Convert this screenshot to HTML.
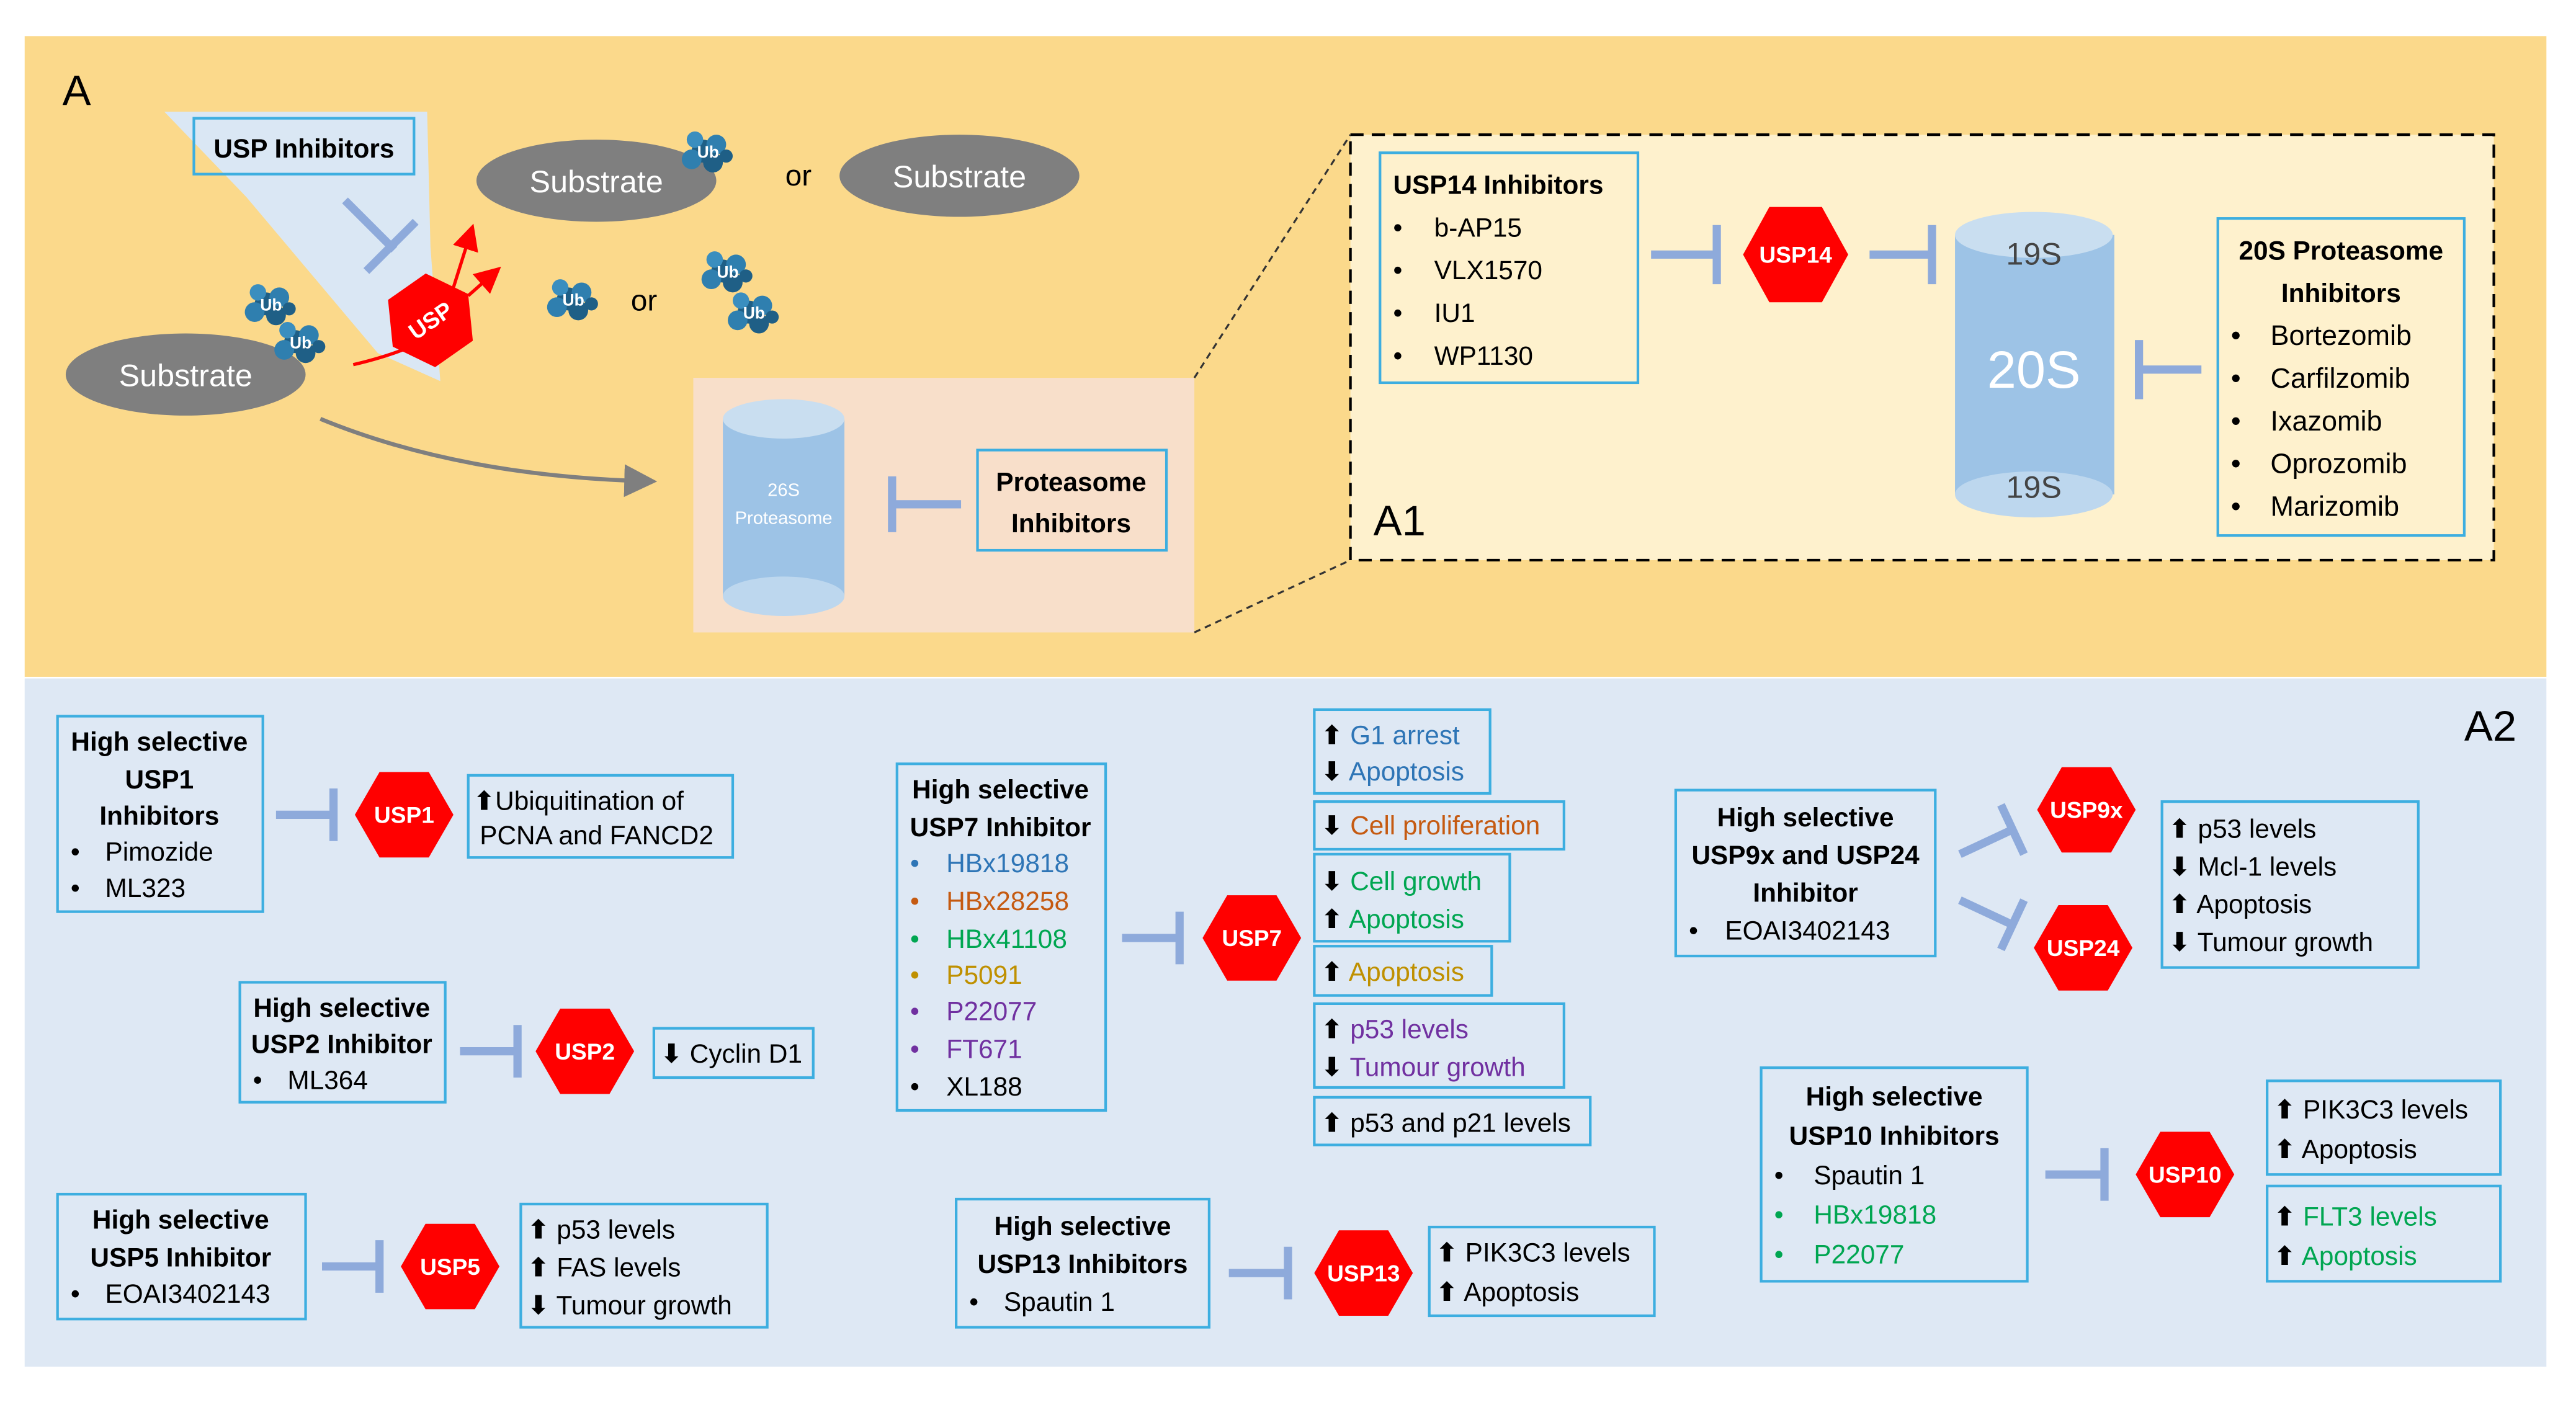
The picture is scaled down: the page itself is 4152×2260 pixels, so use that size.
<!DOCTYPE html>
<html><head><meta charset="utf-8"><style>
html,body{margin:0;padding:0;background:#fff;}
svg{display:block;}
text{font-family:"Liberation Sans","DejaVu Sans",sans-serif;}
.t{font-size:16px;fill:#000;}
.b{font-size:16px;font-weight:bold;fill:#000;}
.box{fill:none;stroke:#3DAEE0;stroke-width:1.6;}
.tb{stroke:#8EAADB;stroke-width:5;fill:none;}
.hx{fill:#FF0000;}
.hl{font-size:14px;font-weight:bold;fill:#fff;text-anchor:middle;}
.ar{font-family:"DejaVu Sans",sans-serif;font-weight:bold;}
</style></head><body>
<svg width="4152" height="2260" viewBox="0 0 1568 853.5" xmlns="http://www.w3.org/2000/svg">
<defs>
<marker id="ga" markerWidth="8" markerHeight="8" refX="6" refY="4" orient="auto"><path d="M0,0 L8,4 L0,8 z" fill="#7F7F7F"/></marker>
<marker id="ra" markerWidth="8" markerHeight="8" refX="6" refY="4" orient="auto"><path d="M0,0 L8,4 L0,8 z" fill="#FF0000"/></marker>
<g id="ub"><circle cx="0" cy="0" r="7" fill="#1F5F86"/><circle cx="8" cy="-4" r="6" fill="#2F7FAF"/><circle cx="-7" cy="5" r="6" fill="#2F7FAF"/><circle cx="6" cy="7" r="6" fill="#1F5F86"/><circle cx="-5" cy="-7" r="5" fill="#3A8EBF"/><circle cx="14" cy="3" r="4" fill="#1F5F86"/><text x="3" y="4" font-size="10" font-weight="bold" fill="#fff" text-anchor="middle">Ub</text></g>
</defs>
<rect x="0" y="0" width="1568" height="853.5" fill="#fff"/>
<!-- top panel -->
<rect x="15" y="22" width="1535" height="390" fill="#FBD98B"/>
<rect x="15" y="413" width="1535" height="419" fill="#DEE8F4"/>
<text x="38" y="64" font-size="26" fill="#000">A</text>
<polygon points="100,68 260,68 262,150 268,232 230,215 150,120" fill="#DAE7F4"/>
<rect x="118" y="72" width="134" height="34" fill="#DAE7F4" class="box"/>
<text x="185" y="96" class="b" text-anchor="middle" font-size="17">USP Inhibitors</text>
<path d="M210,122 L240,152 M223,165 L253,135" class="tb"/>
<ellipse cx="363" cy="110" rx="73" ry="25" fill="#7F7F7F"/>
<text x="363" y="117" font-size="19" fill="#fff" text-anchor="middle">Substrate</text>
<ellipse cx="584" cy="107" rx="73" ry="25" fill="#7F7F7F"/>
<text x="584" y="114" font-size="19" fill="#fff" text-anchor="middle">Substrate</text>
<ellipse cx="113" cy="228" rx="73" ry="25" fill="#7F7F7F"/>
<text x="113" y="235" font-size="19" fill="#fff" text-anchor="middle">Substrate</text>
<text x="478" y="113" font-size="18">or</text>
<text x="384" y="189" font-size="18">or</text>
<use href="#ub" x="428" y="92"/>
<use href="#ub" x="162" y="185"/><use href="#ub" x="180" y="208"/>
<use href="#ub" x="346" y="182"/>
<use href="#ub" x="440" y="165"/><use href="#ub" x="456" y="190"/>
<path d="M215,222 Q245,215 262,205" stroke="#FF0000" stroke-width="2" fill="none"/>
<path d="M276,175 L287,140" stroke="#FF0000" stroke-width="2" fill="none" marker-end="url(#ra)"/>
<path d="M285,180 L302,165" stroke="#FF0000" stroke-width="2" fill="none" marker-end="url(#ra)"/>
<g transform="rotate(-35 262 195)"><polygon class="hx" points="234,195 248,170 276,170 290,195 276,220 248,220"/><text x="262" y="200" class="hl">USP</text></g>
<path d="M195,255 Q280,290 395,293" stroke="#7F7F7F" stroke-width="2.5" fill="none" marker-end="url(#ga)"/>
<rect x="422" y="230" width="305" height="155" fill="#F8DFCA"/>
<rect x="440" y="255" width="74" height="108" fill="#9DC3E6"/>
<ellipse cx="477" cy="363" rx="37" ry="12" fill="#BDD7EE"/>
<ellipse cx="477" cy="255" rx="37" ry="12" fill="#C9DEF0"/>
<text x="477" y="302" font-size="11" fill="#fff" text-anchor="middle">26S</text>
<text x="477" y="319" font-size="11" fill="#fff" text-anchor="middle">Proteasome</text>
<path d="M543,307 L585,307 M543,290 L543,324" class="tb"/>
<rect x="595" y="274" width="115" height="61" class="box"/>
<text x="652" y="299" class="b" text-anchor="middle" font-size="17">Proteasome</text>
<text x="652" y="324" class="b" text-anchor="middle" font-size="17">Inhibitors</text>
<!-- A1 -->
<line x1="727" y1="230" x2="822" y2="82" stroke="#333" stroke-width="1.2" stroke-dasharray="4,3"/>
<line x1="727" y1="385" x2="822" y2="341" stroke="#333" stroke-width="1.2" stroke-dasharray="4,3"/>
<rect x="822" y="82" width="696" height="259" fill="#FEF1CD" stroke="#000" stroke-width="1.6" stroke-dasharray="8,5"/>
<text x="836" y="326" font-size="26">A1</text>
<rect x="840" y="93" width="157" height="140" class="box"/>
<text x="848" y="118" class="b" font-size="17">USP14 Inhibitors</text>
<g class="t" font-size="17"><text x="848" y="144">•</text><text x="873" y="144">b-AP15</text>
<text x="848" y="170">•</text><text x="873" y="170">VLX1570</text>
<text x="848" y="196">•</text><text x="873" y="196">IU1</text>
<text x="848" y="222">•</text><text x="873" y="222">WP1130</text></g>
<path d="M1005,155 L1045,155 M1045,137 L1045,173" class="tb"/>
<polygon class="hx" points="1061,155 1077,126 1109,126 1125,155 1109,184 1077,184"/>
<text x="1093" y="160" class="hl">USP14</text>
<path d="M1138,155 L1176,155 M1176,137 L1176,173" class="tb"/>
<rect x="1190" y="143" width="97" height="158" fill="#9DC3E6"/>
<ellipse cx="1238" cy="301" rx="48" ry="14" fill="#BDD7EE"/>
<ellipse cx="1238" cy="143" rx="48" ry="14" fill="#C9DEF0"/>
<text x="1238" y="161" font-size="19" fill="#444" text-anchor="middle">19S</text>
<text x="1238" y="236" font-size="32" fill="#fff" text-anchor="middle">20S</text>
<text x="1238" y="303" font-size="19" fill="#444" text-anchor="middle">19S</text>
<path d="M1302,225 L1340,225 M1302,207 L1302,243" class="tb"/>
<rect x="1350" y="133" width="150" height="193" class="box"/>
<text x="1425" y="158" class="b" font-size="17" text-anchor="middle">20S Proteasome</text>
<text x="1425" y="184" class="b" font-size="17" text-anchor="middle">Inhibitors</text>
<g font-size="17"><text x="1358" y="210">•</text><text x="1382" y="210">Bortezomib</text>
<text x="1358" y="236">•</text><text x="1382" y="236">Carfilzomib</text>
<text x="1358" y="262">•</text><text x="1382" y="262">Ixazomib</text>
<text x="1358" y="288">•</text><text x="1382" y="288">Oprozomib</text>
<text x="1358" y="314">•</text><text x="1382" y="314">Marizomib</text></g>
<!-- A2 -->
<text x="1500" y="451" font-size="26">A2</text>
<!-- USP1 -->
<rect x="35" y="436" width="125" height="119" class="box"/>
<g class="b" text-anchor="middle"><text x="97" y="457">High selective</text><text x="97" y="480">USP1</text><text x="97" y="502">Inhibitors</text></g>
<g class="t"><text x="43" y="524">•</text><text x="64" y="524">Pimozide</text><text x="43" y="546">•</text><text x="64" y="546">ML323</text></g>
<path d="M168,496 L203,496 M203,480 L203,512" class="tb"/>
<polygon class="hx" points="216,496 231,470 261,470 276,496 261,522 231,522"/><text x="246" y="501" class="hl">USP1</text>
<rect x="285" y="472" width="161" height="50" class="box"/>
<text x="288" y="493" class="t"><tspan class="ar">⬆</tspan>Ubiquitination of</text><text x="292" y="514" class="t">PCNA and FANCD2</text>
<!-- USP2 -->
<rect x="146" y="598" width="125" height="73" class="box"/>
<g class="b" text-anchor="middle"><text x="208" y="619">High selective</text><text x="208" y="641">USP2 Inhibitor</text></g>
<text x="154" y="663" class="t">•</text><text x="175" y="663" class="t">ML364</text>
<path d="M280,640 L315,640 M315,624 L315,656" class="tb"/>
<polygon class="hx" points="326,640 341,614 371,614 386,640 371,666 341,666"/><text x="356" y="645" class="hl">USP2</text>
<rect x="398" y="626" width="97" height="30" class="box"/>
<text x="402" y="647" class="t"><tspan class="ar">⬇</tspan> Cyclin D1</text>
<!-- USP5 -->
<rect x="35" y="727" width="151" height="76" class="box"/>
<g class="b" text-anchor="middle"><text x="110" y="748">High selective</text><text x="110" y="771">USP5 Inhibitor</text></g>
<text x="43" y="793" class="t">•</text><text x="64" y="793" class="t">EOAI3402143</text>
<path d="M196,771 L231,771 M231,755 L231,787" class="tb"/>
<polygon class="hx" points="244,771 259,745 289,745 304,771 289,797 259,797"/><text x="274" y="776" class="hl">USP5</text>
<rect x="317" y="733" width="150" height="75" class="box"/>
<g class="t"><text x="321" y="754"><tspan class="ar">⬆</tspan> p53 levels</text><text x="321" y="777"><tspan class="ar">⬆</tspan> FAS levels</text><text x="321" y="800"><tspan class="ar">⬇</tspan> Tumour growth</text></g>
<!-- USP7 -->
<rect x="546" y="465" width="127" height="211" class="box"/>
<g class="b" text-anchor="middle"><text x="609" y="486">High selective</text><text x="609" y="509">USP7 Inhibitor</text></g>
<g font-size="16">
<text x="554" y="531" fill="#2E75B6">•</text><text x="576" y="531" fill="#2E75B6">HBx19818</text>
<text x="554" y="554" fill="#C55A11">•</text><text x="576" y="554" fill="#C55A11">HBx28258</text>
<text x="554" y="577" fill="#00A651">•</text><text x="576" y="577" fill="#00A651">HBx41108</text>
<text x="554" y="599" fill="#BF9000">•</text><text x="576" y="599" fill="#BF9000">P5091</text>
<text x="554" y="621" fill="#7030A0">•</text><text x="576" y="621" fill="#7030A0">P22077</text>
<text x="554" y="644" fill="#7030A0">•</text><text x="576" y="644" fill="#7030A0">FT671</text>
<text x="554" y="667" fill="#000">•</text><text x="576" y="667" fill="#000">XL188</text></g>
<path d="M683,571 L718,571 M718,555 L718,587" class="tb"/>
<polygon class="hx" points="732,571 747,545 777,545 792,571 777,597 747,597"/><text x="762" y="576" class="hl">USP7</text>
<g font-size="16">
<rect x="800" y="432" width="107" height="51" class="box"/>
<text x="804" y="453" fill="#2E75B6"><tspan class="ar" fill="#000">⬆</tspan> G1 arrest</text>
<text x="804" y="475" fill="#2E75B6"><tspan class="ar" fill="#000">⬇</tspan> Apoptosis</text>
<rect x="800" y="488" width="152" height="29" class="box"/>
<text x="804" y="508" fill="#C55A11"><tspan class="ar" fill="#000">⬇</tspan> Cell proliferation</text>
<rect x="800" y="520" width="119" height="53" class="box"/>
<text x="804" y="542" fill="#00A651"><tspan class="ar" fill="#000">⬇</tspan> Cell growth</text>
<text x="804" y="565" fill="#00A651"><tspan class="ar" fill="#000">⬆</tspan> Apoptosis</text>
<rect x="800" y="576" width="108" height="30" class="box"/>
<text x="804" y="597" fill="#BF9000"><tspan class="ar" fill="#000">⬆</tspan> Apoptosis</text>
<rect x="800" y="611" width="152" height="51" class="box"/>
<text x="804" y="632" fill="#7030A0"><tspan class="ar" fill="#000">⬆</tspan>  p53 levels</text>
<text x="804" y="655" fill="#7030A0"><tspan class="ar" fill="#000">⬇</tspan>  Tumour growth</text>
<rect x="800" y="668" width="168" height="29" class="box"/>
<text x="804" y="689" fill="#000"><tspan class="ar">⬆</tspan> p53 and p21 levels</text></g>
<!-- USP13 -->
<rect x="582" y="730" width="154" height="78" class="box"/>
<g class="b" text-anchor="middle"><text x="659" y="752">High selective</text><text x="659" y="775">USP13 Inhibitors</text></g>
<text x="590" y="798" class="t">•</text><text x="611" y="798" class="t">Spautin 1</text>
<path d="M748,775 L784,775 M784,759 L784,791" class="tb"/>
<polygon class="hx" points="800,775 815,749 845,749 860,775 845,801 815,801"/><text x="830" y="780" class="hl">USP13</text>
<rect x="870" y="747" width="137" height="54" class="box"/>
<g class="t"><text x="874" y="768"><tspan class="ar">⬆</tspan> PIK3C3 levels</text><text x="874" y="792"><tspan class="ar">⬆</tspan> Apoptosis</text></g>
<!-- USP9x/24 -->
<rect x="1020" y="481" width="158" height="101" class="box"/>
<g class="b" text-anchor="middle" font-size="17"><text x="1099" y="503">High selective</text><text x="1099" y="526">USP9x and USP24</text><text x="1099" y="549">Inhibitor</text></g>
<text x="1028" y="572" class="t">•</text><text x="1050" y="572" class="t">EOAI3402143</text>
<path d="M1193,520 L1225,505 M1218,490 L1232,520" class="tb"/>
<path d="M1193,548 L1225,563 M1232,548 L1218,578" class="tb"/>
<polygon class="hx" points="1240,493 1255,467 1285,467 1300,493 1285,519 1255,519"/><text x="1270" y="498" class="hl">USP9x</text>
<polygon class="hx" points="1238,577 1253,551 1283,551 1298,577 1283,603 1253,603"/><text x="1268" y="582" class="hl">USP24</text>
<rect x="1316" y="488" width="156" height="101" class="box"/>
<g class="t"><text x="1320" y="510"><tspan class="ar">⬆</tspan> p53 levels</text><text x="1320" y="533"><tspan class="ar">⬇</tspan> Mcl-1 levels</text><text x="1320" y="556"><tspan class="ar">⬆</tspan> Apoptosis</text><text x="1320" y="579"><tspan class="ar">⬇</tspan> Tumour growth</text></g>
<!-- USP10 -->
<rect x="1072" y="650" width="162" height="130" class="box"/>
<g class="b" text-anchor="middle" font-size="17"><text x="1153" y="673">High selective</text><text x="1153" y="697">USP10 Inhibitors</text></g>
<g font-size="16"><text x="1080" y="721">•</text><text x="1104" y="721">Spautin 1</text>
<text x="1080" y="745" fill="#00A651">•</text><text x="1104" y="745" fill="#00A651">HBx19818</text>
<text x="1080" y="769" fill="#00A651">•</text><text x="1104" y="769" fill="#00A651">P22077</text></g>
<path d="M1245,715 L1281,715 M1281,699 L1281,731" class="tb"/>
<polygon class="hx" points="1300,715 1315,689 1345,689 1360,715 1345,741 1315,741"/><text x="1330" y="720" class="hl">USP10</text>
<rect x="1380" y="658" width="142" height="57" class="box"/>
<g class="t"><text x="1384" y="681"><tspan class="ar">⬆</tspan> PIK3C3 levels</text><text x="1384" y="705"><tspan class="ar">⬆</tspan> Apoptosis</text></g>
<rect x="1380" y="722" width="142" height="58" class="box"/>
<g font-size="16" fill="#00A651"><text x="1384" y="746"><tspan class="ar" fill="#000">⬆</tspan> FLT3 levels</text><text x="1384" y="770"><tspan class="ar" fill="#000">⬆</tspan> Apoptosis</text></g>
</svg>
</body></html>
